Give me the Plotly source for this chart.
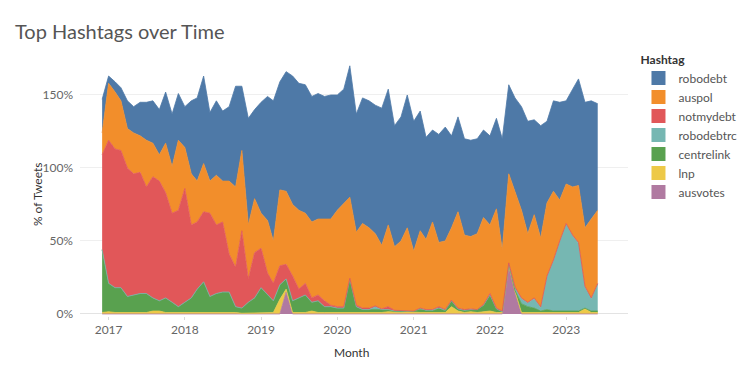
import pandas as pd
import plotly.graph_objects as go

# ---------------- data ----------------
months = pd.date_range("2016-12-01", periods=79, freq="MS")

hashtags = ["robodebt", "auspol", "notmydebt", "robodebtrc", "centrelink", "lnp", "ausvotes"]
colors = ["#4e79a7", "#f28e2b", "#e15759", "#76b7b2", "#59a14f", "#edc948", "#b07aa1"]

robodebt = [23, 5, 7, 9, 19, 18, 23, 26, 29, 31, 35, 36, 32, 28, 50, 57, 60, 47, 51, 48,
            51, 69, 44, 73, 61, 76, 85, 96, 74, 82, 88, 87, 88, 86, 86, 84, 85, 79, 78,
            90, 81, 86, 87, 88, 94, 93, 83, 85, 91, 89, 82, 70, 63, 74, 78, 63, 65, 66,
            66, 65, 60, 61, 62, 76, 61, 64, 71, 77, 65, 77, 56, 62, 67, 57, 67, 73, 86, 81, 73]

auspol = [15, 39, 39, 34, 27, 28, 25, 32, 23, 18, 34, 32, 48, 28, 35, 28, 33, 22, 34, 28,
          50, 55, 55, 37, 37, 24, 36, 29, 52, 50, 49, 54, 48, 52, 52, 56, 59, 66, 71,
          55.5, 50, 58, 55, 49.5, 43.5, 56, 43.5, 47.5, 56.5, 41, 53, 48, 60, 44, 47, 49.5, 66, 51,
          49.5, 52, 59.5, 47, 68, 42, 61, 65.5, 60, 47, 57, 47, 50, 47, 28, 27, 33, 39, 40, 54, 50]

notmydebt = [65, 98, 95, 94, 88, 83, 83, 73, 83, 82, 72, 61, 66, 78, 50, 46, 48, 57, 47, 48,
             26, 27, 53, 16, 31, 27, 15, 12, 13, 10, 17, 6, 8, 3, 4, 4, 1, 1, 1,
             0.5, 1, 1, 1, 0.5, 0.5, 2, 0.5, 0.5, 0.5, 0, 0, 0.5, 0, 1, 0, 0.5, 0.5, 0.5,
             0.5, 0, 0.5, 1, 0.5, 0.5, 0.5, 0.5, 0.5, 0.5, 0.5, 0.5, 0.5, 0.5, 0.5, 0.5, 0.5, 0.5, 0.5, 0.5, 0.5]

robodebtrc = [0] * 43 + [2, 0, 0, 0, 0, 0, 0, 1, 0, 1, 0, 1] + [0] * 10 + \
             [2, 3.5, 2.5, 6.5, 2.5, 22.5, 34.5, 47.5, 59.5, 51.5, 46.5, 14.5, 8.5, 18.5]

centrelink = [43, 19.5, 17, 17, 11, 11.5, 13, 13, 9, 7, 10, 7, 3.5, 7, 10, 16, 21, 10.5, 13, 14,
              14, 4, 3.5, 7.5, 10, 17, 12, 8, 10, 7, 8, 10, 12, 6, 8, 4, 4, 3, 3,
              23, 4, 2, 2, 2.5, 2, 1.5, 1, 1, 0.5, 1, 2, 1.5, 1, 2.5, 1, 4, 1.5, 1.5,
              1.5, 2, 4.5, 11, 2.5, 0.5, 1, 0.5, 6, 4, 3.5, 1.5, 2.5, 1.5, 1.5, 1.5, 1, 1, 0.5, 1, 1]

lnp = [1, 1.5, 1, 1, 1, 1.5, 1, 1, 2, 2, 1, 1, 1.5, 1, 1, 1, 1, 1.5, 1, 1,
       1, 1, 0.5, 0.5, 1, 1, 1, 1, 10, 2, 1, 1, 1, 2, 1, 1, 1, 1, 1,
       1, 1, 1, 1, 0.5, 1, 1.5, 1, 1, 1.5, 1, 1, 1, 1, 1.5, 1, 5, 2, 1,
       1.5, 1, 1.5, 2, 1, 1, 0.5, 0.5, 1, 1, 0.5, 0.5, 0.5, 0.5, 0.5, 0.5, 1, 1, 3.5, 1, 1]

ausvotes = [0] * 29 + [15] + [0] * 34 + [33, 15] + [0] * 13

series = {
    "robodebt": robodebt,
    "auspol": auspol,
    "notmydebt": notmydebt,
    "robodebtrc": robodebtrc,
    "centrelink": centrelink,
    "lnp": lnp,
    "ausvotes": ausvotes,
}

year_ticks = ["2017-01-01", "2018-01-01", "2019-01-01", "2020-01-01",
              "2021-01-01", "2022-01-01", "2023-01-01"]
year_labels = ["2017", "2018", "2019", "2020", "2021", "2022", "2023"]
y_ticks = [0, 50, 100, 150]
y_labels = ["0%", "50%", "100%", "150%"]

# ---------------- figure ----------------
FONT = "Lato, Open Sans, sans-serif"
fig = go.Figure()

# stacked areas: bottom of stack first
for name, col in reversed(list(zip(hashtags, colors))):
    fig.add_trace(go.Scatter(
        x=months, y=series[name], name=name, stackgroup="one",
        mode="lines", line=dict(color=col, width=0.8), fillcolor=col,
        showlegend=False, hoverinfo="skip"))

# legend entries (square swatches) in legend order
for name, col in zip(hashtags, colors):
    fig.add_trace(go.Scatter(
        x=[None], y=[None], name=name, mode="markers",
        marker=dict(symbol="square", size=14, color=col), showlegend=True))

W, H = 754, 377
L, R, T, B = 80, 99, 62, 61
pw, ph = W - L - R, H - T - B

fig.update_layout(
    width=W, height=H,
    margin=dict(l=L, r=R, t=T, b=B),
    paper_bgcolor="white", plot_bgcolor="white",
    font=dict(family=FONT, size=12, color="#666666"),
    title=dict(text="Top Hashtags over Time", x=15 / W, xref="container", xanchor="left",
               y=1 - 32 / H, yref="container", yanchor="middle",
               font=dict(size=20, color="#555555", family=FONT)),
    legend=dict(x=(666 - L) / pw, y=(H - B - 48) / ph, xanchor="left", yanchor="top",
                title=dict(text="<b>Hashtag</b>", font=dict(size=12, color="#333333")),
                font=dict(size=12, color="#555555"), traceorder="normal",
                bgcolor="rgba(0,0,0,0)", itemwidth=30, tracegroupgap=0),
    showlegend=True,
)

fig.update_xaxes(
    type="date", range=["2016-08-17", "2023-10-24"],
    tickvals=year_ticks, ticktext=year_labels,
    showgrid=False, zeroline=False, showline=False,
    ticks="outside", ticklen=3, tickcolor="#d9d9d9",
    tickfont=dict(size=12, color="#666666"),
)
fig.update_yaxes(
    range=[-1.4, 172.6],
    tickvals=y_ticks, ticktext=y_labels,
    showgrid=True, gridcolor="#efefef", gridwidth=1,
    zeroline=True, zerolinecolor="#e3e3e3", zerolinewidth=1,
    showline=False, ticks="", ticklabelstandoff=6,
    tickfont=dict(size=12, color="#666666"),
)

fig.add_annotation(text="% of Tweets", textangle=-90, xref="paper", yref="paper",
                   x=(35 - L) / pw, y=(H - B - 194) / ph, showarrow=False,
                   xanchor="center", yanchor="middle",
                   font=dict(size=12, color="#333333"))
fig.add_annotation(text="Month", xref="paper", yref="paper",
                   x=(365 - L) / pw, y=(H - B - 352) / ph, showarrow=False,
                   xanchor="center", yanchor="middle",
                   font=dict(size=12, color="#333333"))

fig.write_html("out.html", config={"displayModeBar": False},
               post_script="document.body.style.margin='0';document.body.style.overflow='hidden';")
